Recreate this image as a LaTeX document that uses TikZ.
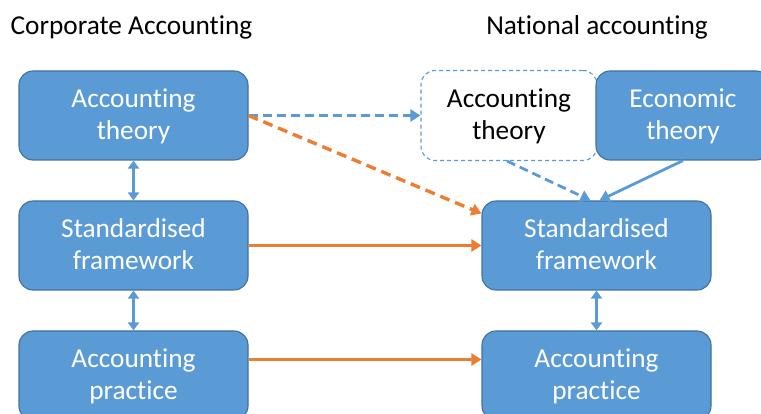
\documentclass[tikz,border=0pt]{standalone}
\usepackage{fontspec}
\setmainfont{Carlito}[Ligatures=NoCommon]
\usetikzlibrary{arrows.meta}
\definecolor{boxblue}{HTML}{5B9BD5}
\definecolor{edgeblue}{HTML}{41719C}
\definecolor{arrorange}{HTML}{ED7D31}
\newcommand{\mystrut}{\rule[-6pt]{0pt}{28pt}}
\begin{document}
\begin{tikzpicture}[x=1pt,y=-1pt,
  txt/.style={font=\fontsize{27.3}{32}\selectfont, align=center, inner sep=0pt},
  box/.style={txt, draw=edgeblue, line width=1.1pt, fill=boxblue, rounded corners=14pt,
    minimum width=229pt, minimum height=89pt, text=white},
  dbox/.style={txt, draw=boxblue, line width=1.1pt, dash pattern=on 4pt off 3pt, fill=white,
    rounded corners=14pt, minimum width=176pt, minimum height=90pt, text=black},
  biarrow/.style={draw=boxblue, line width=2.6pt, {Triangle[width=11pt,length=8pt]}-{Triangle[width=11pt,length=8pt]}},
  bluearrow/.style={draw=boxblue, line width=2.8pt, -{Triangle[width=12pt,length=10pt]}},
  orangearrow/.style={draw=arrorange, line width=3pt, -{Triangle[width=12pt,length=10pt]}},
  dashes/.style={dash pattern=on 9pt off 5pt}
]
\useasboundingbox (0,0) rectangle (761,414);
\clip (0,0) rectangle (761,414);

\node[txt] (t1) at (131.5,27) {Corporate Accounting};
\node[txt] (t2) at (597,27) {National accounting};

\node[box] (tl) at (133.5,115.5) {\mystrut Accounting\\\mystrut theory};
\node[box] (ml) at (133.5,245.5) {\mystrut Standardised\\\mystrut framework};
\node[box] (bl) at (133.5,375.5) {\mystrut Accounting\\\mystrut practice};

\node[dbox] (at) at (509,115.5) {\mystrut Accounting\\\mystrut theory};
\node[box, minimum width=174pt] (et) at (683,115.5) {\mystrut Economic\\\mystrut theory};
\node[box] (sr) at (596.5,245.5) {\mystrut Standardised\\\mystrut framework};
\node[box] (br) at (596.5,375.5) {\mystrut Accounting\\\mystrut practice};

\draw[biarrow] (tl.south) -- (ml.north);
\draw[biarrow] (ml.south) -- (bl.north);
\draw[biarrow] (sr.south) -- (br.north);

\draw[bluearrow, dashes] (tl.east) -- (at.west);
\draw[orangearrow, line width=3.4pt, dash pattern=on 10pt off 6pt] (tl.east) -- ([yshift=32pt]sr.west);
\draw[orangearrow] (ml.east) -- (sr.west);
\draw[orangearrow] ([yshift=16pt]bl.east) -- ([yshift=16pt]br.west);

\draw[bluearrow, dashes] ([xshift=-2pt]at.south) -- ([xshift=-6pt]sr.north);
\draw[bluearrow] (et.south) -- ([xshift=3pt]sr.north);
\end{tikzpicture}
\end{document}
